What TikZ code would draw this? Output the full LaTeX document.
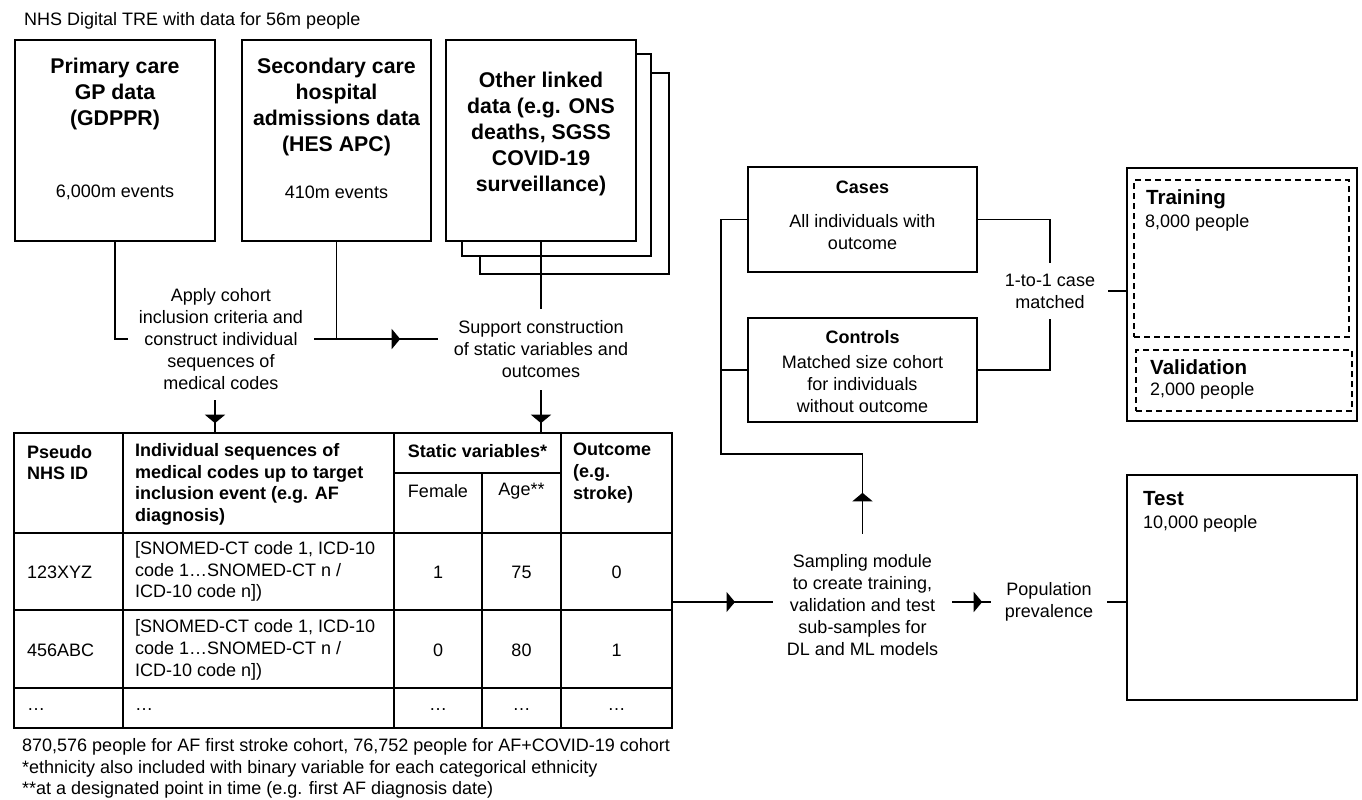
\documentclass[tikz,border=0pt]{standalone}
\usepackage{fontspec}
\setmainfont{Liberation Sans}
\usetikzlibrary{arrows.meta,decorations.markings}
\tikzset{
 conn/.style={line width=1.5pt},
 box/.style={draw, line width=1.5pt, fill=white, inner sep=0pt},
 dbox/.style={draw, dashed, dash pattern=on 6pt off 4pt, line width=1.3pt, inner sep=0pt},
 txt/.style={inner sep=0pt, font=\fontsize{18}{22}\selectfont, align=center},
 ltxt/.style={inner sep=0pt, font=\fontsize{18}{21.7}\selectfont, align=left, anchor=west},
 btxt/.style={inner sep=0pt, font=\fontsize{18}{22}\selectfont\bfseries, align=center},
 lbtxt/.style={inner sep=0pt, font=\fontsize{18}{21.7}\selectfont\bfseries, align=left, anchor=west},
 bigt/.style={inner sep=0pt, font=\fontsize{21.3}{26}\selectfont\bfseries, align=center},
 midt/.style={inner sep=0pt, font=\fontsize{20.5}{24}\selectfont\bfseries, anchor=west},
 midtip/.style={postaction={decorate, decoration={markings, mark=at position #1 with {\arrow{Triangle[length=8.5pt,width=20pt]}}}}},
}
\begin{document}
\begin{tikzpicture}[x=1pt,y=-1pt]
\useasboundingbox (0,0) rectangle (1362,800);
% title
\node[ltxt] (title) at (24,21) {NHS Digital TRE with data for 56m people};
% source boxes
\node[box, minimum width=200, minimum height=201] (gp) at (115,140.5) {};
\node[box, minimum width=189, minimum height=201] (hes) at (336.5,140.5) {};
\node[box, minimum width=189, minimum height=201] (oth3) at (574.5,173.5) {};
\node[box, minimum width=189, minimum height=202] (oth2) at (556.5,155) {};
\node[box, minimum width=190, minimum height=201] (oth) at (541,140.5) {};
\node[bigt] (gpt) at (115,93.5) {Primary care\\GP data\\(GDPPR)};
\node[txt] (gpe) at (115,192) {6,000m events};
\node[bigt] (hest) at (336.5,106.5) {Secondary care\\hospital\\admissions data\\(HES APC)};
\node[txt] (hese) at (336.5,192) {410m events};
\node[bigt] (otht) at (541,134) {Other linked\\data (e.g. ONS\\deaths, SGSS\\COVID-19\\surveillance)};
% labels
\node[txt, minimum width=186, minimum height=122] (apply) at (221,339) {Apply cohort\\inclusion criteria and\\construct individual\\sequences of\\medical codes};
\node[txt, minimum width=206, minimum height=81] (support) at (541,349.5) {Support construction\\of static variables and\\outcomes};
% connectors top
\draw[conn] (gp.south) |- (apply.west);
\draw[conn] (hes.south) -- (hes.south |- apply.east);
\draw[conn, midtip=86pt] (apply.east) -- (support.west |- apply.east);
\draw[conn] (oth.south) -- (support.north);
\coordinate (tblA) at (215,433);
\coordinate (tblB) at (541,433);
\draw[conn, midtip=23pt] (apply.south -| tblA) -- (tblA);
\draw[conn, midtip=33pt] (support.south) -- (tblB);
% table
\node[draw, line width=1.5pt, minimum width=658, minimum height=295, inner sep=0pt] (tbl) at (343,580.5) {};
\draw[conn] (123,433) -- (123,728);
\draw[conn] (394,433) -- (394,728);
\draw[conn] (561,433) -- (561,728);
\draw[conn] (482,473) -- (482,728);
\draw[conn] (394,473) -- (561,473);
\draw[conn] (14,533) -- (672,533);
\draw[conn] (14,610) -- (672,610);
\draw[conn] (14,688) -- (672,688);
\node[lbtxt] (h1) at (27,462.5) {Pseudo\\NHS ID};
\node[lbtxt] (h2) at (135,484.5) {Individual sequences of\\medical codes up to target\\inclusion event (e.g. AF\\diagnosis)};
\node[btxt] (h3) at (477.5,451) {Static variables*};
\node[txt] (h3a) at (438,491) {Female};
\node[txt] (h3b) at (521.5,491) {Age**};
\node[lbtxt] (h4) at (573,473) {Outcome\\(e.g.\\stroke)};
\node[ltxt] (r1a) at (27,572) {123XYZ};
\node[ltxt] (r1b) at (135,571.5) {[SNOMED-CT code 1, ICD-10\\code 1…SNOMED-CT n /\\ICD-10 code n])};
\node[txt] (r1c) at (438,572) {1};
\node[txt] (r1d) at (521.5,572) {75};
\node[txt] (r1e) at (616.5,572) {0};
\node[ltxt] (r2a) at (27,650) {456ABC};
\node[ltxt] (r2b) at (135,650) {[SNOMED-CT code 1, ICD-10\\code 1…SNOMED-CT n /\\ICD-10 code n])};
\node[txt] (r2c) at (438,650) {0};
\node[txt] (r2d) at (521.5,650) {80};
\node[txt] (r2e) at (616.5,650) {1};
\node[ltxt] (r3a) at (27,710) {…};
\node[ltxt] (r3b) at (135,710) {…};
\node[txt] (r3c) at (438,710) {…};
\node[txt] (r3d) at (521.5,710) {…};
\node[txt] (r3e) at (616.5,710) {…};
% footnotes
\node[ltxt] (fn) at (22,768.5) {870,576 people for AF first stroke cohort, 76,752 people for AF+COVID-19 cohort\\*ethnicity also included with binary variable for each categorical ethnicity\\**at a designated point in time (e.g. first AF diagnosis date)};
% sampling
\node[txt, minimum width=179, minimum height=143] (samp) at (862.5,605.5) {Sampling module\\to create training,\\validation and test\\sub-samples for\\DL and ML models};
\node[txt, minimum width=116, minimum height=50] (pop) at (1049,602) {Population\\prevalence};
\coordinate (tabout) at (672,602);
\draw[conn, midtip=63pt] (tabout) -- (samp.west |- tabout);
\draw[conn, midtip=30pt] (samp.east |- tabout) -- (pop.west);
\node[box, minimum width=230, minimum height=225] (test) at (1242,587.5) {};
\draw[conn] (pop.east) -- (test.west |- pop.east);
\node[midt] (testt) at (1143,499) {Test};
\node[ltxt] (testn) at (1143,524) {10,000 people};
% cases / controls
\node[box, minimum width=229, minimum height=105] (cases) at (862.5,219.5) {};
\node[btxt] (casest) at (862.5,187) {Cases};
\node[txt] (casesd) at (862.5,232.5) {All individuals with\\outcome};
\node[box, minimum width=229, minimum height=104] (ctrl) at (862.5,370) {};
\node[btxt] (ctrlt) at (862.5,337) {Controls};
\node[txt] (ctrld) at (862.5,384) {Matched size cohort\\for individuals\\without outcome};
\coordinate (busb) at (721,454);
\draw[conn, midtip=41pt] (samp.north) |- (busb) |- (cases.west);
\draw[conn] (ctrl.west) -- (ctrl.west -| busb);
\node[txt, minimum width=116, minimum height=56] (match) at (1050,291) {1-to-1 case\\matched};
\draw[conn] (cases.east) -| (match.north);
\draw[conn] (ctrl.east) -| (match.south);
\node[box, minimum width=230, minimum height=253] (trv) at (1242,294.5) {};
\draw[conn] (match.east) -- (match.east -| trv.west);
\node[dbox, minimum width=215, minimum height=157] (train) at (1241.5,258.5) {};
\node[dbox, minimum width=216, minimum height=61] (valid) at (1244,380.5) {};
\node[midt] (traint) at (1146,199) {Training};
\node[ltxt] (trainn) at (1145,223) {8,000 people};
\node[midt] (validt) at (1150,367) {Validation};
\node[ltxt] (validn) at (1150,391) {2,000 people};
\end{tikzpicture}
\end{document}
